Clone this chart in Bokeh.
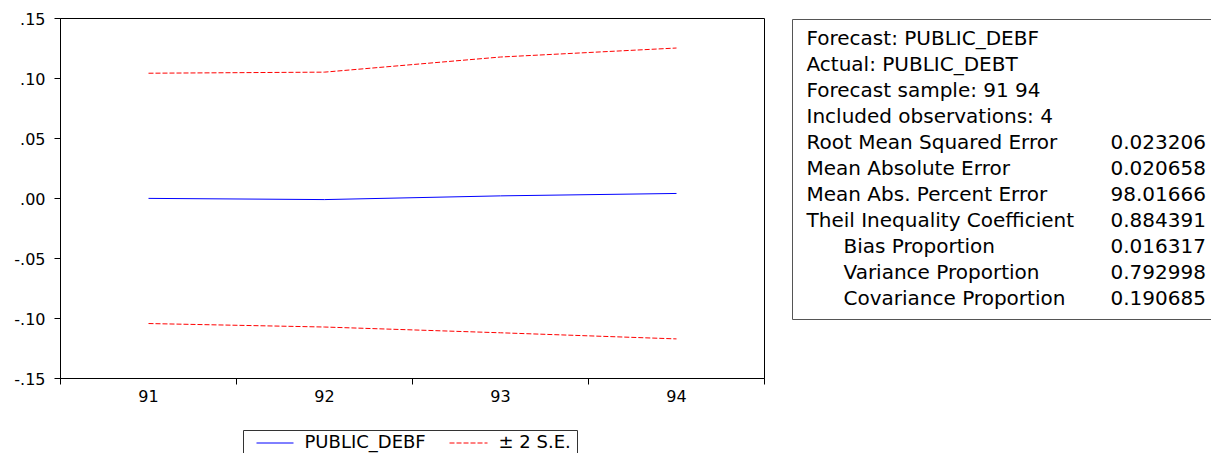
from bokeh.plotting import figure
from bokeh.models import Range1d, FixedTicker, CustomJSTickFormatter, ColumnDataSource
from bokeh.layouts import row, column
from bokeh.embed import file_html
from bokeh.resources import INLINE
from bokeh.core.properties import value

# ---- data ----
periods = [91, 92, 93, 94]
forecast = [0.0001, -0.0009, 0.0022, 0.0042]
upper_2se = [0.1044, 0.1053, 0.1179, 0.1254]
lower_2se = [-0.1042, -0.1071, -0.1119, -0.1170]
y_ticks = [-0.15, -0.10, -0.05, 0.0, 0.05, 0.10, 0.15]
series_names = ["PUBLIC_DEBF", "\u00b1 2 S.E."]

stat_labels = ["Forecast: PUBLIC_DEBF", "Actual: PUBLIC_DEBT", "Forecast sample: 91 94",
               "Included observations: 4", "Root Mean Squared Error", "Mean Absolute Error",
               "Mean Abs. Percent Error", "Theil Inequality Coefficient", "Bias Proportion",
               "Variance Proportion", "Covariance Proportion"]
stat_values = ["", "", "", "", "0.023206", "0.020658", "98.01666", "0.884391",
               "0.016317", "0.792998", "0.190685"]
stat_indent = [0, 0, 0, 0, 0, 0, 0, 0, 1, 1, 1]

FONT = "DejaVu Sans"
BLUE, RED, DASH = "#0000FF", "#FF0000", "5 2"
series_colors = [BLUE, RED]
series_dashes = ["solid", DASH]

# ---- main chart ----
p = figure(width=768, height=420, output_backend="svg", toolbar_location=None,
           x_range=Range1d(90.5, 94.5), y_range=Range1d(-0.15, 0.15),
           min_border_left=60, min_border_right=4, min_border_top=18, min_border_bottom=42)
p.grid.visible = False
p.outline_line_color = "black"
p.background_fill_color = "white"
p.border_fill_color = "white"

p.line(periods, forecast, line_color=BLUE, line_width=1)
p.line(periods, upper_2se, line_color=RED, line_width=1, line_dash=DASH)
p.line(periods, lower_2se, line_color=RED, line_width=1, line_dash=DASH)

xa = p.xaxis[0]
xa.ticker = FixedTicker(ticks=periods, minor_ticks=[x - 0.5 for x in periods] + [periods[-1] + 0.5])
xa.major_tick_out = 0
xa.major_tick_in = 0
xa.minor_tick_out = 6
xa.minor_tick_in = 0
xa.minor_tick_line_color = "black"
xa.axis_line_color = "black"
xa.major_label_text_font = FONT
xa.major_label_text_font_size = "16px"
xa.major_label_text_color = "black"
xa.major_label_standoff = 5

ya = p.yaxis[0]
ya.ticker = FixedTicker(ticks=y_ticks)
ya.formatter = CustomJSTickFormatter(code="""
    var s = tick.toFixed(2);
    if (s === '-0.00') s = '0.00';
    return s.replace(/^(-?)0\\./, '$1.');
""")
ya.major_tick_out = 6
ya.major_tick_in = 0
ya.minor_tick_out = 0
ya.minor_tick_in = 0
ya.major_tick_line_color = "black"
ya.axis_line_color = "black"
ya.major_label_text_font = FONT
ya.major_label_text_font_size = "16px"
ya.major_label_text_color = "black"
ya.major_label_standoff = 9

# ---- legend strip under the chart (page pixel coordinates inside its frame) ----
pleg = figure(width=768, height=33, output_backend="svg", toolbar_location=None,
              x_range=Range1d(60, 764), y_range=Range1d(453, 420),
              min_border_left=60, min_border_right=4, min_border_top=0, min_border_bottom=0)
pleg.axis.visible = False
pleg.grid.visible = False
pleg.outline_line_color = None
pleg.background_fill_color = "white"
pleg.border_fill_color = "white"

SWATCH_Y, LABEL_Y = 442.5, 440.5
swatch_x = [(256, 293), (449, 487)]
label_x = [304, 498]
pleg.quad(left=[243], right=[577], top=[430], bottom=[470], fill_color="white",
          line_color="#333333", line_width=1)
for (x0, x1), c, d in zip(swatch_x, series_colors, series_dashes):
    pleg.line([x0, x1], [SWATCH_Y, SWATCH_Y], line_color=c, line_width=1, line_dash=d)
pleg.text(x=label_x, y=[LABEL_Y] * 2, text=series_names, text_font=value(FONT),
          text_font_size="18px", text_baseline="middle", text_align="left", text_color="black")

# ---- statistics box (page pixel coordinates inside its frame) ----
p2 = figure(width=443, height=453, output_backend="svg", toolbar_location=None,
            x_range=Range1d(768, 1211), y_range=Range1d(453, 18),
            min_border_left=0, min_border_right=0, min_border_top=18, min_border_bottom=0)
p2.axis.visible = False
p2.grid.visible = False
p2.outline_line_color = None
p2.background_fill_color = "white"
p2.border_fill_color = "white"

p2.quad(left=[792], right=[1240], top=[19], bottom=[319], fill_color="white",
        line_color="#555555", line_width=1)

n = len(stat_labels)
ys = [37.5 + 26 * i for i in range(n)]
xs = [806 + 37 * stat_indent[i] for i in range(n)]
src = ColumnDataSource(dict(x=xs, y=ys, t=stat_labels, v=stat_values, vx=[1110] * n))
p2.text(x="x", y="y", text="t", source=src, text_font=value(FONT), text_font_size="20px",
        text_baseline="middle", text_align="left", text_color="black")
p2.text(x="vx", y="y", text="v", source=src, text_font=value(FONT), text_font_size="20px",
        text_baseline="middle", text_align="left", text_color="black")

layout = row(column(p, pleg, spacing=0), p2, spacing=0)
open("out.html", "w").write(file_html(layout, INLINE))
